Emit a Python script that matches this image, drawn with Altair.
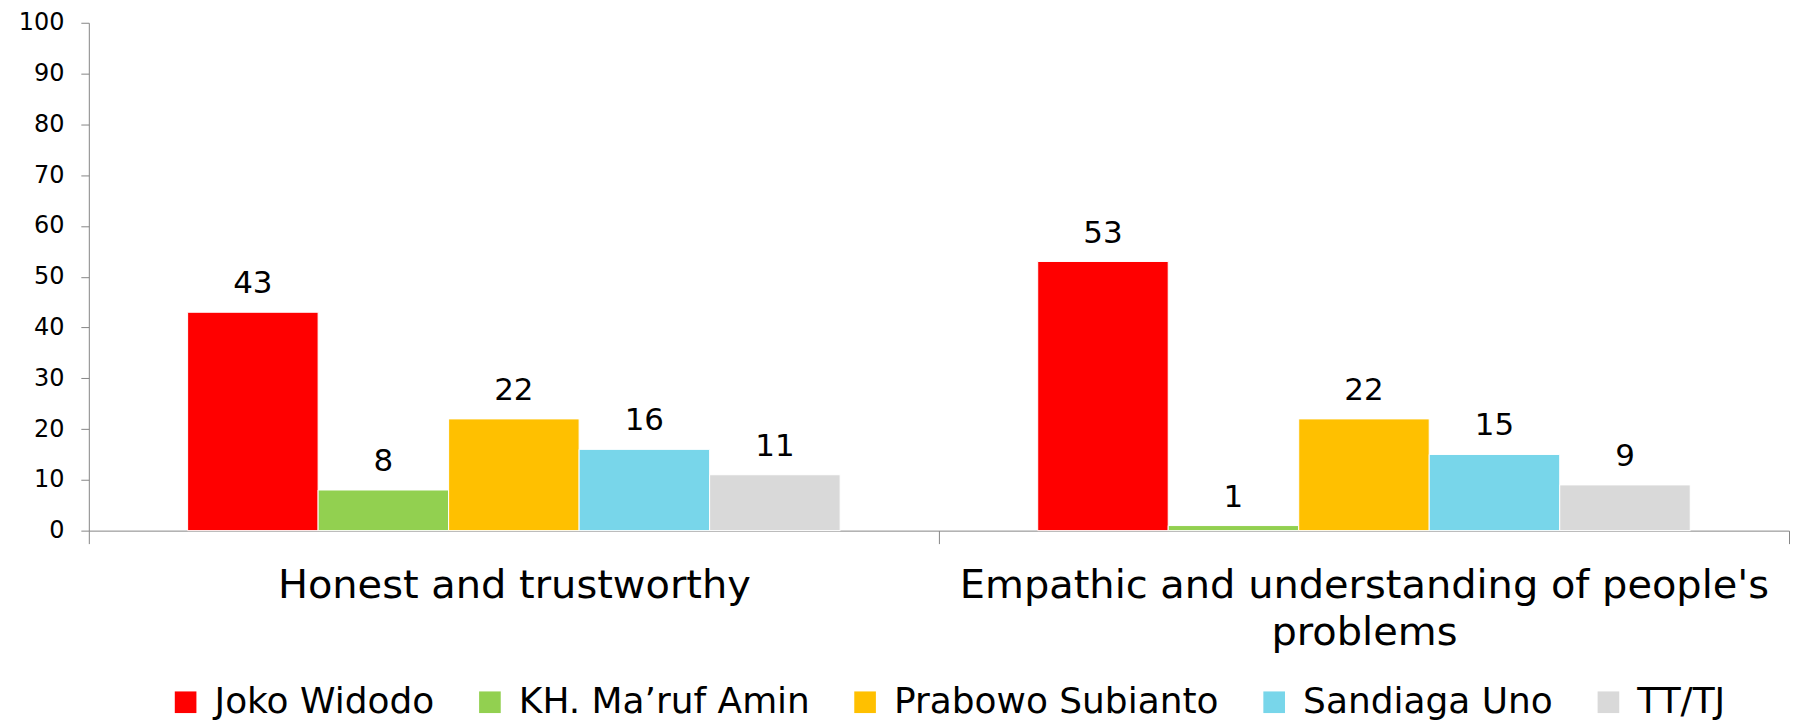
import altair as alt
import pandas as pd

categories = ["Honest and trustworthy", "Empathic and understanding of people's problems"]
candidates = ["Joko Widodo", "KH. Ma\u2019ruf Amin", "Prabowo Subianto", "Sandiaga Uno", "TT/TJ"]
honest = [43, 8, 22, 16, 11]
empathic = [53, 1, 22, 15, 9]
colors = ["#FF0000", "#92D050", "#FFC000", "#78D6EA", "#D9D9D9"]
y_ticks = list(range(0, 101, 10))

rows = []
for cat, vals in zip(categories, [honest, empathic]):
    for cand, v in zip(candidates, vals):
        rows.append({"category": cat, "candidate": cand, "value": v})
df = pd.DataFrame(rows)

FONT = "DejaVu Sans"

x_enc = alt.X(
    "category:N",
    sort=categories,
    scale=alt.Scale(paddingInner=0, paddingOuter=0),
    axis=alt.Axis(
        title=None,
        labelAngle=0,
        labelFontSize=40,
        labelFont=FONT,
        labelColor="#000000",
        labelLimit=1200,
        labelPadding=22,
        labelLineHeight=47,
        labelBaseline="top",
        tickBand="extent",
        tickSize=13,
        tickColor="#868686",
        domainColor="#868686",
        labelExpr="indexof(datum.label, ' problems') > 0 ? [replace(datum.label, ' problems', ''), 'problems'] : datum.label",
    ),
)
xoff = alt.XOffset(
    "candidate:N",
    sort=candidates,
    scale=alt.Scale(paddingInner=0, paddingOuter=0.757),
)
y_enc = alt.Y(
    "value:Q",
    scale=alt.Scale(domain=[0, 100], nice=False),
    axis=alt.Axis(
        title=None,
        values=y_ticks,
        grid=False,
        labelFontSize=24,
        labelFont=FONT,
        labelColor="#000000",
        labelPadding=17,
        tickSize=8,
        tickColor="#868686",
        domainColor="#868686",
    ),
)

bars = alt.Chart(df).mark_bar(stroke="white", strokeWidth=1).encode(
    x=x_enc,
    xOffset=xoff,
    y=y_enc,
    color=alt.Color(
        "candidate:N",
        sort=candidates,
        scale=alt.Scale(domain=candidates, range=colors),
        legend=alt.Legend(
            title=None,
            orient="none",
            direction="horizontal",
            legendX=79,
            legendY=663,
            symbolType="square",
            symbolSize=470,
            symbolStrokeWidth=0,
            labelFontSize=36,
            labelFont=FONT,
            labelColor="#000000",
            labelOffset=11,
            labelLimit=600,
            columnPadding=37,
            padding=0,
        ),
    ),
)

labels = alt.Chart(df).mark_text(
    fontSize=31, font=FONT, color="#000000", baseline="alphabetic", dy=-19
).encode(
    x=alt.X("category:N", sort=categories),
    xOffset=alt.XOffset("candidate:N", sort=candidates),
    y="value:Q",
    text=alt.Text("value:Q"),
)

chart = (
    alt.layer(bars, labels)
    .properties(width=1704, height=509, padding={"left": 10, "top": 2, "right": 5, "bottom": 0})
    .configure_view(stroke=None)
)

chart.save("out.html", embed_options={"renderer": "svg", "actions": False})
